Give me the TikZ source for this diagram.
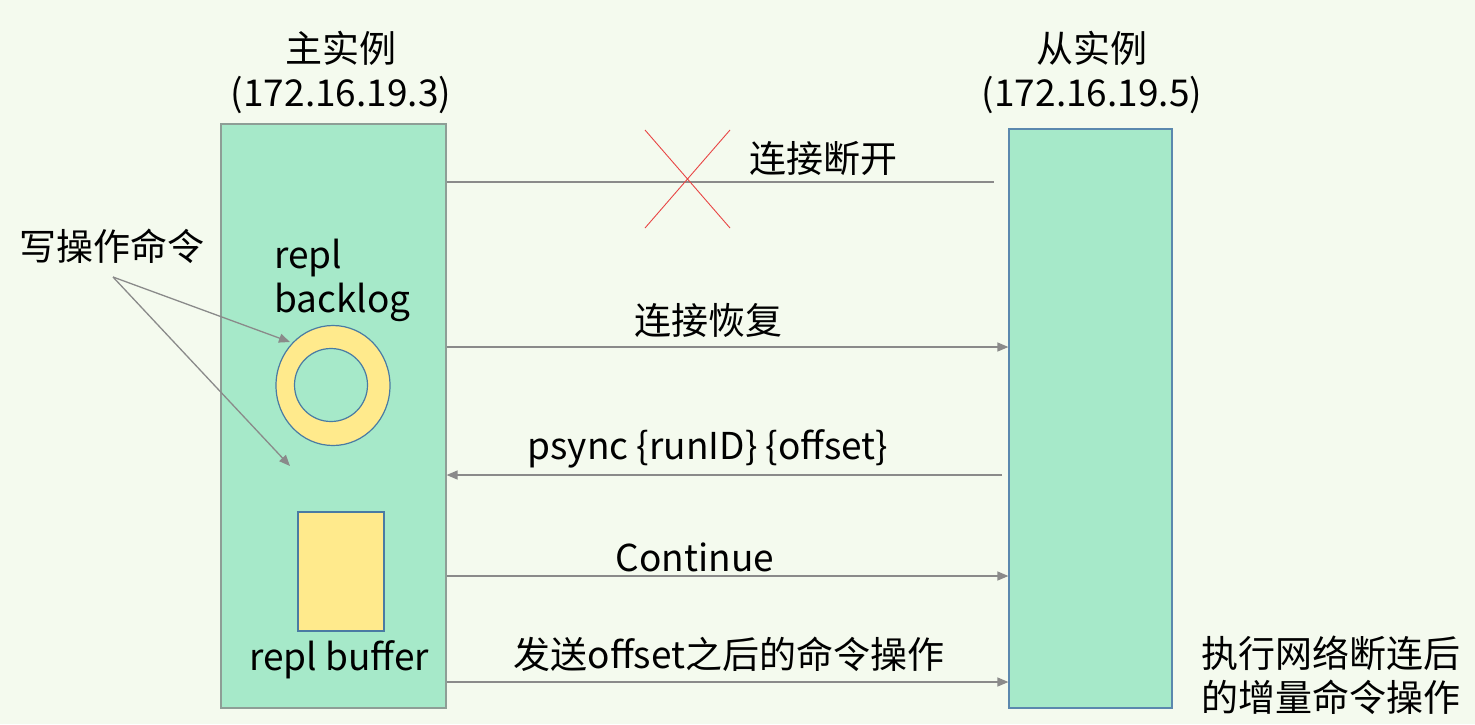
\documentclass[tikz,border=0pt]{standalone}
\usepackage{fontspec}
\setmainfont{Noto Sans CJK SC}
\usetikzlibrary{arrows.meta,shapes.geometric}
\definecolor{bgc}{HTML}{F4FAEE}
\definecolor{boxg}{HTML}{A6E9C9}
\definecolor{lborder}{HTML}{8E9E96}
\definecolor{rborder}{HTML}{5B88AE}
\definecolor{ylw}{HTML}{FFEA8C}
\definecolor{ringb}{HTML}{4A7BA3}
\definecolor{arrg}{HTML}{8A8A8A}
\definecolor{xred}{HTML}{E84545}
\tikzset{
  lbl/.style={inner sep=0pt, font=\fontsize{37}{44}\selectfont, text=black},
  conn/.style={draw=arrg, line width=1.3pt},
  arr/.style={conn, -{Triangle[length=11pt,width=9pt]}},
  machine/.style={draw=#1, fill=boxg, line width=1.2pt, inner sep=0pt},
}
\begin{document}
\begin{tikzpicture}[x=1pt,y=-1pt]
\useasboundingbox[fill=bgc] (0,0) rectangle (1475,724);
% boxes
\node[machine=lborder, minimum width=225pt, minimum height=584pt] (L) at (333.5,416) {};
\node[machine=rborder, minimum width=163pt, minimum height=579pt] (R) at (1090.5,418.5) {};
% titles
\node[lbl, align=center] (Lt) at (341,72) {主实例\\(172.16.19.3)};
\node[lbl, align=center] (Rt) at (1092,72) {从实例\\(172.16.19.5)};
% ring
\node[draw=ringb, fill=ylw, line width=1.2pt, ellipse, minimum width=114pt, minimum height=120pt, inner sep=0pt] (ring) at (333,385.5) {};
\node[draw=ringb, fill=boxg, line width=1.2pt, circle, minimum size=73pt, inner sep=0pt] (hole) at (331,385) {};
\node[lbl, align=left, anchor=west] (backlog) at (274,280) {repl\\backlog};
% buffer
\node[draw=ringb, fill=ylw, line width=1.2pt, minimum width=86pt, minimum height=119pt, inner sep=0pt] (buf) at (341,571.5) {};
\node[lbl] (buft) at (339,660) {repl buffer};
% write commands
\node[lbl] (wc) at (112,246) {写操作命令};
\coordinate (wcs) at (113,277);
\coordinate (wt1) at (290,342);
\coordinate (wt2) at (290,466);
\draw[arr] (wcs) -- (wt1);
\draw[arr] (wcs) -- (wt2);
% messages
\coordinate (d1e) at (994,182);
\draw[conn] (L.east |- d1e) -- (d1e);
\draw[xred, line width=0.9pt] (645,130) -- (730,228) (730,130) -- (645,228);
\node[lbl] (m1) at (823,158) {连接断开};

\draw[arr] (L.east |- 0,347) -- (R.west |- 0,347);
\node[lbl] (m2) at (708,320) {连接恢复};

\coordinate (p0) at (1002,475);
\draw[arr] (p0) -- (L.east |- p0);
\node[lbl] (m3) at (708,449) {psync \{runID\} \{offset\}};

\draw[arr] (L.east |- 0,576) -- (R.west |- 0,576);
\node[lbl] (m4) at (695,557) {Continue};

\draw[arr] (L.east |- 0,682) -- (R.west |- 0,682);
\node[lbl] (m5) at (729,654) {发送offset之后的命令操作};

\node[lbl, align=left, anchor=west] (res) at (1201,675) {执行网络断连后\\的增量命令操作};
\end{tikzpicture}
\end{document}
